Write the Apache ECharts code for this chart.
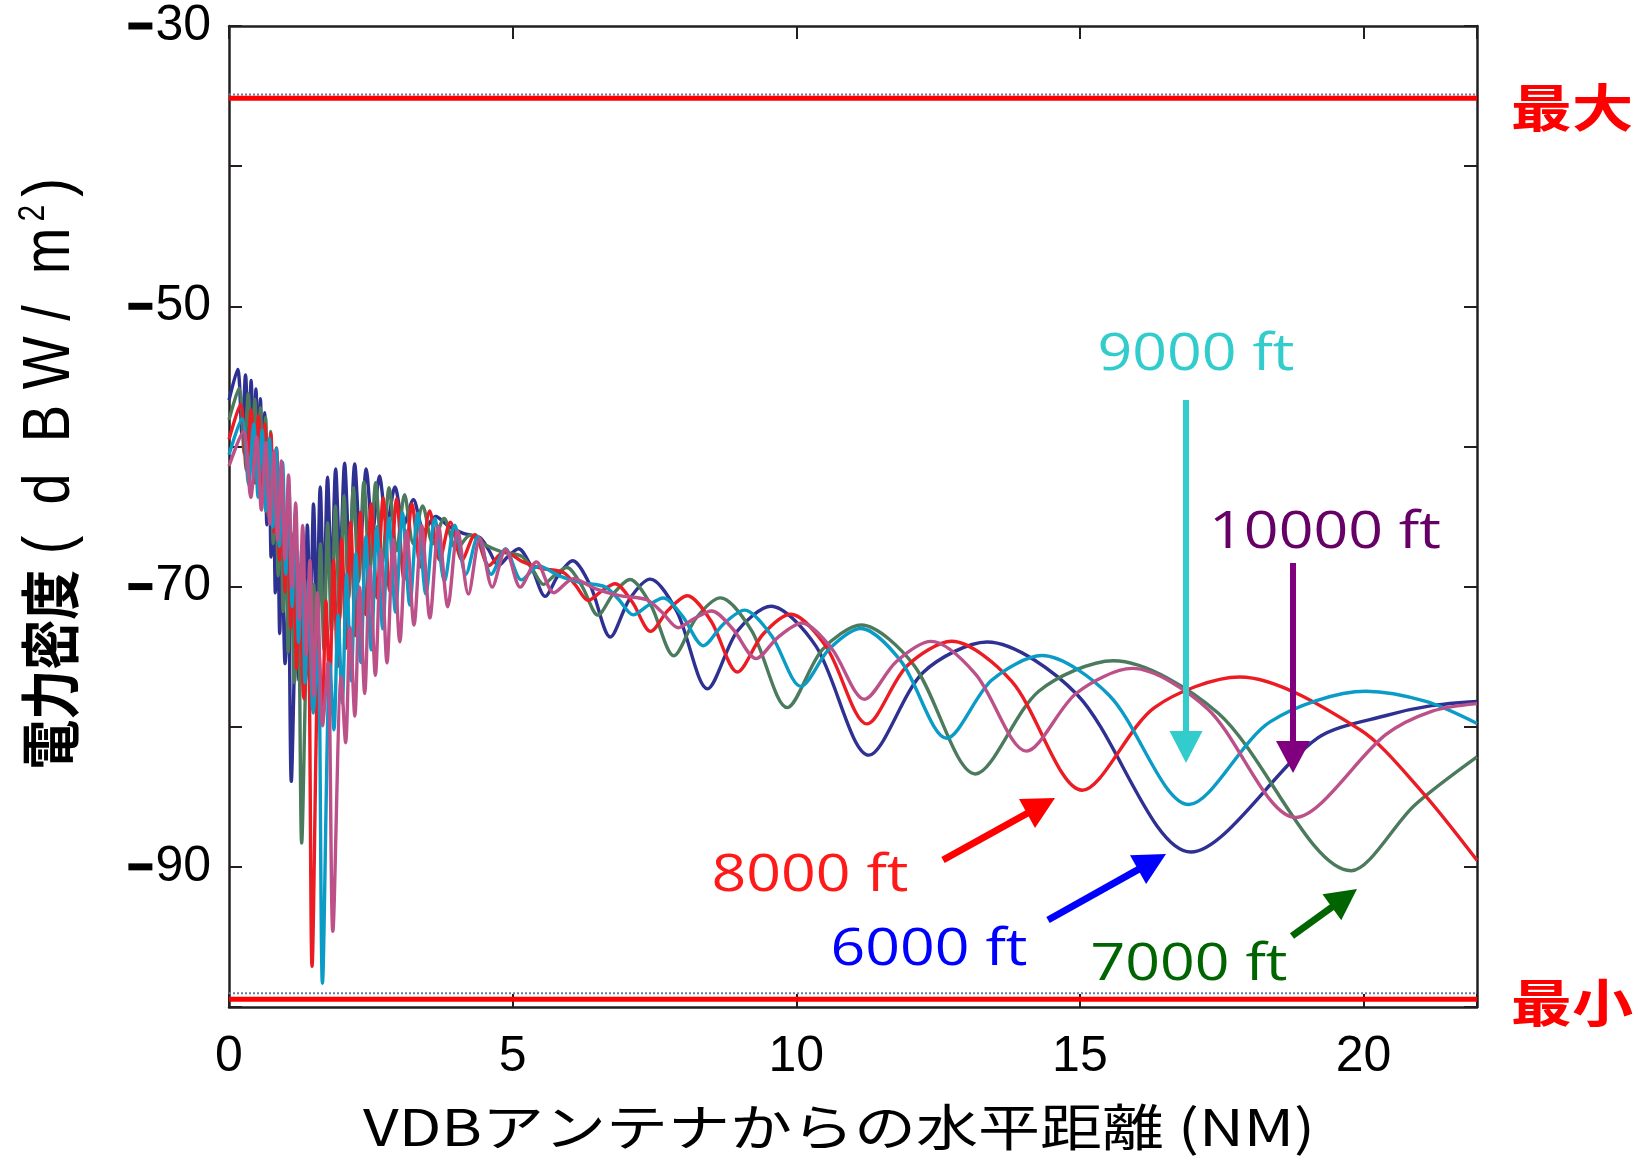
<!DOCTYPE html>
<html>
<head>
<meta charset="utf-8">
<title>VDB 電力密度</title>
<script src="https://cdn.jsdelivr.net/npm/echarts@6/dist/echarts.min.js"></script>
<style>
  html, body { margin: 0; padding: 0; background: #fff; }
  #main { width: 1638px; height: 1165px; }
</style>
</head>
<body>
<div id="main"></div>
<script>
// 高度ごとの電力密度 [水平距離 NM, dBW/m2]
var ft6000 = [[0,-56.7],[0.152,-54.5],[0.230,-59.2],[0.291,-54.9],[0.343,-60.1],[0.390,-55.3],[0.433,-61.1],[0.475,-55.9],[0.515,-62.25],[0.554,-56.6],[0.592,-63.6],[0.630,-57.6],[0.667,-65.6],[0.705,-59.6],[0.742,-67.9],[0.780,-61.2],[0.817,-70.45],[0.855,-63.7],[0.894,-73.35],[0.933,-66.0],[0.989,-75.5],[1.047,-71.0],[1.098,-83.9],[1.187,-72.0],[1.233,-76.7],[1.281,-68.5],[1.331,-74.8],[1.382,-65.6],[1.435,-73.2],[1.490,-64.1],[1.548,-71.9],[1.608,-62.9],[1.671,-71.0],[1.737,-62.2],[1.807,-69.5],[1.880,-61.6],[1.957,-68.3],[2.038,-61.2],[2.125,-67.8],[2.216,-61.25],[2.314,-67.0],[2.419,-61.6],[2.532,-66.1],[2.653,-62.1],[2.784,-65.6],[2.926,-62.9],[3.081,-65.6],[3.250,-63.8],[3.437,-66.0],[3.643,-65.0],[3.873,-65.7],[4.130,-66.2],[4.420,-66.5],[4.580,-67.4],[4.751,-68.5],[4.921,-67.84],[5.104,-67.3],[5.329,-68.59],[5.575,-70.7],[5.807,-69.18],[6.057,-68.16],[6.373,-69.96],[6.722,-73.6],[7.057,-70.92],[7.425,-69.47],[7.899,-71.82],[8.435,-77.3],[8.962,-73.17],[9.554,-71.4],[10.349,-74.27],[11.280,-82.03],[12.235,-76.13],[13.364,-73.95],[14.949,-77.7],[16.956,-88.94],[19.194,-80.8],[20.4,-79.2],[21.2,-78.5],[22,-78.2]];

var ft7000 = [[0,-58.1],[0.177,-55.84],[0.269,-60.54],[0.339,-56.24],[0.400,-61.44],[0.455,-56.64],[0.506,-62.44],[0.554,-57.24],[0.601,-63.59],[0.646,-57.94],[0.691,-64.94],[0.735,-58.94],[0.779,-66.94],[0.822,-60.94],[0.866,-69.24],[0.910,-62.54],[0.954,-71.79],[0.998,-65.04],[1.043,-74.69],[1.089,-67.34],[1.154,-76.84],[1.222,-72.34],[1.281,-88.3],[1.385,-73.34],[1.439,-78.04],[1.495,-69.84],[1.552,-76.14],[1.612,-66.94],[1.674,-74.54],[1.739,-65.44],[1.806,-73.24],[1.876,-64.24],[1.950,-72.34],[2.027,-63.54],[2.108,-70.84],[2.193,-62.94],[2.283,-69.64],[2.378,-62.54],[2.479,-69.14],[2.586,-62.59],[2.700,-68.34],[2.823,-62.94],[2.954,-67.44],[3.095,-63.44],[3.248,-66.94],[3.414,-64.24],[3.594,-66.94],[3.792,-65.14],[4.010,-67.34],[4.250,-66.34],[4.518,-67.04],[4.818,-67.54],[5.157,-67.84],[5.344,-68.74],[5.543,-69.84],[5.742,-69.18],[5.954,-68.64],[6.218,-69.93],[6.504,-72.04],[6.775,-70.52],[7.067,-69.5],[7.435,-71.3],[7.842,-74.94],[8.233,-72.26],[8.663,-70.81],[9.215,-73.16],[9.841,-78.64],[10.456,-74.51],[11.146,-72.74],[12.074,-75.61],[13.160,-83.37],[14.275,-77.47],[15.591,-75.29],[17.440,-79.04],[19.783,-90.28],[20.9,-85.6],[22,-82.15]];

var ft8000 = [[0,-59.5],[0.203,-57.0],[0.307,-61.7],[0.388,-57.4],[0.457,-62.6],[0.519,-57.8],[0.578,-63.6],[0.633,-58.4],[0.687,-64.75],[0.739,-59.1],[0.790,-66.1],[0.840,-60.1],[0.890,-68.1],[0.940,-62.1],[0.990,-70.4],[1.040,-63.7],[1.090,-72.95],[1.141,-66.2],[1.192,-75.85],[1.245,-68.5],[1.319,-78.0],[1.396,-73.5],[1.464,-97.1],[1.583,-74.5],[1.645,-79.2],[1.708,-71.0],[1.774,-77.3],[1.843,-68.1],[1.914,-75.7],[1.987,-66.6],[2.064,-74.4],[2.144,-65.4],[2.228,-73.5],[2.316,-64.7],[2.409,-72.0],[2.506,-64.1],[2.609,-70.8],[2.717,-63.7],[2.833,-70.3],[2.955,-63.75],[3.086,-69.5],[3.226,-64.1],[3.376,-68.6],[3.537,-64.6],[3.712,-68.1],[3.902,-65.4],[4.108,-68.1],[4.334,-66.3],[4.582,-68.5],[4.857,-67.5],[5.164,-68.2],[5.507,-68.7],[5.894,-69.0],[6.107,-69.9],[6.335,-71.0],[6.562,-70.34],[6.805,-69.8],[7.106,-71.09],[7.433,-73.2],[7.742,-71.68],[8.077,-70.66],[8.497,-72.46],[8.963,-76.1],[9.409,-73.42],[9.901,-71.97],[10.532,-74.32],[11.247,-79.8],[11.950,-75.67],[12.739,-73.9],[13.799,-76.77],[15.041,-84.53],[16.314,-78.63],[17.819,-76.45],[19.932,-80.2],[21.0,-84.5],[22,-89.53]];

var ft9000 = [[0,-60.6],[0.228,-58.02],[0.346,-62.72],[0.436,-58.42],[0.514,-63.62],[0.584,-58.82],[0.650,-64.62],[0.712,-59.42],[0.773,-65.77],[0.831,-60.12],[0.888,-67.12],[0.945,-61.12],[1.001,-69.12],[1.057,-63.12],[1.113,-71.42],[1.169,-64.72],[1.226,-73.97],[1.283,-67.22],[1.341,-76.87],[1.400,-69.52],[1.484,-79.02],[1.571,-74.52],[1.647,-98.3],[1.780,-75.52],[1.850,-80.22],[1.922,-72.02],[1.996,-78.32],[2.073,-69.12],[2.153,-76.72],[2.236,-67.62],[2.322,-75.42],[2.412,-66.42],[2.507,-74.52],[2.606,-65.72],[2.710,-73.02],[2.819,-65.12],[2.935,-71.82],[3.057,-64.72],[3.187,-71.32],[3.325,-64.77],[3.471,-70.52],[3.629,-65.12],[3.798,-69.62],[3.979,-65.62],[4.176,-69.12],[4.389,-66.42],[4.621,-69.12],[4.875,-67.32],[5.155,-69.52],[5.464,-68.52],[5.809,-69.22],[6.195,-69.72],[6.630,-70.02],[6.870,-70.92],[7.127,-72.02],[7.382,-71.36],[7.655,-70.82],[7.994,-72.11],[8.362,-74.22],[8.710,-72.7],[9.086,-71.68],[9.559,-73.48],[10.082,-77.12],[10.584,-74.44],[11.138,-72.99],[11.848,-75.34],[12.652,-80.82],[13.443,-76.69],[14.330,-74.92],[15.523,-77.79],[16.920,-85.55],[18.352,-79.65],[20.045,-77.47],[21.1,-78.2],[22,-79.77]];

var ft10000 = [[0,-61.4],[0.253,-58.94],[0.384,-63.64],[0.485,-59.34],[0.571,-64.54],[0.649,-59.74],[0.722,-65.54],[0.792,-60.34],[0.858,-66.69],[0.923,-61.04],[0.987,-68.04],[1.050,-62.04],[1.112,-70.04],[1.175,-64.04],[1.237,-72.34],[1.299,-65.64],[1.362,-74.89],[1.426,-68.14],[1.490,-77.79],[1.556,-70.44],[1.649,-79.94],[1.745,-75.44],[1.830,-94.6],[1.978,-76.44],[2.056,-81.14],[2.135,-72.94],[2.218,-79.24],[2.303,-70.04],[2.392,-77.64],[2.484,-68.54],[2.580,-76.34],[2.680,-67.34],[2.785,-75.44],[2.895,-66.64],[3.011,-73.94],[3.132,-66.04],[3.261,-72.74],[3.397,-65.64],[3.541,-72.24],[3.694,-65.69],[3.857,-71.44],[4.032,-66.04],[4.220,-70.54],[4.422,-66.54],[4.640,-70.04],[4.877,-67.34],[5.135,-70.04],[5.417,-68.24],[5.728,-70.44],[6.072,-69.44],[6.454,-70.14],[6.883,-70.64],[7.367,-70.94],[7.634,-71.84],[7.919,-72.94],[8.202,-72.28],[8.506,-71.74],[8.882,-73.03],[9.291,-75.14],[9.677,-73.62],[10.095,-72.6],[10.621,-74.4],[11.203,-78.04],[11.761,-75.36],[12.375,-73.91],[13.164,-76.26],[14.058,-81.74],[14.937,-77.61],[15.922,-75.84],[17.248,-78.71],[18.800,-86.47],[20.391,-80.57],[21.2,-78.9],[22,-78.35]];

// 最大・最小レベル [赤線, 点線]
var levelMax = [-35.15, -34.88];
var levelMin = [-99.45, -99.02];

var xRange = [0, 22];
var xTickLabels = [0, 5, 10, 15, 20];
var yTickLabels = [-30, -50, -70, -90];

var frameColor = '#231f20';
var tickFont = 'Liberation Sans';

var main = echarts.init(document.getElementById('main'));

function curve(name, data, color) {
    return {
        name: name, type: 'line', data: data,
        showSymbol: false, symbol: 'none',
        smooth: 0.3,
        lineStyle: { color: color, width: 3.4 },
        z: 3
    };
}

function level(value, color, width, type) {
    return {
        type: 'line', data: [[xRange[0], value], [xRange[1], value]],
        showSymbol: false, symbol: 'none', silent: true,
        lineStyle: { color: color, width: width, type: type },
        z: 2
    };
}

// 矢印（棒 + 三角）
function arrow(x1, y1, x2, y2, color, w, hl, hw) {
    var dx = x2 - x1, dy = y2 - y1, L = Math.sqrt(dx * dx + dy * dy);
    var ux = dx / L, uy = dy / L, px = -uy, py = ux;
    var bx = x2 - ux * hl, by = y2 - uy * hl;
    return [
        { type: 'line', z: 10, shape: { x1: x1, y1: y1, x2: bx + ux * 2, y2: by + uy * 2 },
          style: { stroke: color, lineWidth: w } },
        { type: 'polygon', z: 10, shape: { points: [[x2, y2], [bx + px * hw / 2, by + py * hw / 2], [bx - px * hw / 2, by - py * hw / 2]] },
          style: { fill: color } }
    ];
}

function label(text, x, y, color, size, family, weight, sx) {
    return {
        type: 'text', x: x, y: y, scaleX: sx || 1, z: 10,
        style: {
            text: text, fill: color, fontSize: size, fontFamily: family, fontWeight: weight || 'normal',
            align: 'center', verticalAlign: 'middle', textAlign: 'center', textVerticalAlign: 'middle'
        }
    };
}

var graphics = [];
graphics = graphics.concat(
    arrow(1186, 400, 1186, 763, '#33cccc', 6, 32, 33),
    arrow(1293, 563, 1293, 773, '#800080', 6, 32, 34),
    arrow(943, 860, 1055, 798, '#ff0000', 7, 32, 33),
    arrow(1048, 920, 1166, 854, '#0000ff', 7, 32, 33),
    arrow(1292, 936, 1357, 889, '#006400', 7, 31, 32)
);
graphics.push(
    label('9000 ft', 1196, 355, '#33cccc', 52, 'Open Sans', 'normal', 1.17),
    label('10000 ft', 1325, 533, '#660066', 52, 'Open Sans', 'normal', 1.17),
    label('8000 ft', 810, 876, '#ff1a1a', 52, 'Open Sans', 'normal', 1.17),
    label('6000 ft', 929, 950, '#0000ff', 52, 'Open Sans', 'normal', 1.17),
    label('7000 ft', 1189, 965, '#006400', 52, 'Open Sans', 'normal', 1.17),
    label('最大', 1572, 108, '#ff0000', 51, 'Noto Sans CJK JP', 'bold', 1.2),
    label('最小', 1572, 1003, '#ff0000', 51, 'Noto Sans CJK JP', 'bold', 1.2),
    label('VDBアンテナからの水平距離 (NM)', 839, 1127, '#000', 50, 'Noto Sans CJK JP', 'normal', 1.24),
    {
        type: 'text', x: 50, y: 474, rotation: Math.PI / 2, scaleY: 1.2, z: 10,
        style: {
            text: '{a|電力密度}{b| (  d  B W /  m}{s|2}{b|)}',
            align: 'center', verticalAlign: 'middle', textAlign: 'center', textVerticalAlign: 'middle',
            rich: {
                a: { fontSize: 50, fontFamily: 'Noto Sans CJK JP', fontWeight: 'bold', fill: '#000', color: '#000' },
                b: { fontSize: 56, fontFamily: 'Liberation Sans', fill: '#000', color: '#000' },
                s: { fontSize: 30, fontFamily: 'Liberation Sans', fill: '#000', color: '#000', verticalAlign: 'top', padding: [0, 8, 0, 6] }
            }
        }
    }
);

var option = {
    animation: false,
    backgroundColor: '#fff',
    grid: { left: 229, right: 161, top: 26, bottom: 158, containLabel: false },
    xAxis: [
        {
            type: 'value', min: xRange[0], max: xRange[1], interval: 5, position: 'bottom',
            axisLine: { show: true, onZero: false, lineStyle: { color: frameColor, width: 2.5 } },
            axisTick: { show: true, inside: true, length: 13, lineStyle: { color: frameColor, width: 2 } },
            splitLine: { show: false },
            axisLabel: {
                show: true, margin: 25, fontSize: 50, fontFamily: tickFont, color: '#000',
                showMinLabel: true, showMaxLabel: true,
                formatter: function (v) { return xTickLabels.indexOf(v) >= 0 ? String(v) : ''; }
            }
        },
        {
            type: 'value', min: xRange[0], max: xRange[1], interval: 5, position: 'top',
            axisLine: { show: true, onZero: false, lineStyle: { color: frameColor, width: 2.5 } },
            axisTick: { show: true, inside: true, length: 13, lineStyle: { color: frameColor, width: 2 } },
            splitLine: { show: false }, axisLabel: { show: false }
        }
    ],
    yAxis: [
        {
            type: 'value', min: -100, max: -30, interval: 10, position: 'left',
            axisLine: { show: true, onZero: false, lineStyle: { color: frameColor, width: 2.5 } },
            axisTick: { show: true, inside: true, length: 13, lineStyle: { color: frameColor, width: 2 } },
            splitLine: { show: false },
            axisLabel: {
                show: true, margin: 18, fontSize: 50, fontFamily: tickFont, color: '#000',
                showMinLabel: true, showMaxLabel: true,
                formatter: function (v) {
                    return yTickLabels.indexOf(v) >= 0 ? '{m| }{g| }' + Math.abs(v) : '';
                },
                rich: {
                    m: { width: 24, height: 7, backgroundColor: '#000', fontSize: 10, padding: 0 },
                    g: { width: 3, fontSize: 10 }
                }
            }
        },
        {
            type: 'value', min: -100, max: -30, interval: 10, position: 'right',
            axisLine: { show: true, onZero: false, lineStyle: { color: frameColor, width: 2.5 } },
            axisTick: { show: true, inside: true, length: 13, lineStyle: { color: frameColor, width: 2 } },
            splitLine: { show: false }, axisLabel: { show: false }
        }
    ],
    series: [
        level(levelMax[1], '#6f7aa0', 2, [2, 2]),
        level(levelMax[0], '#ff0000', 5, 'solid'),
        level(levelMin[1], '#6f7aa0', 2, [2, 2]),
        level(levelMin[0], '#ff0000', 5, 'solid'),
        curve('6000 ft', ft6000, '#2e3192'),
        curve('7000 ft', ft7000, '#4b7b5c'),
        curve('8000 ft', ft8000, '#ec1c24'),
        curve('9000 ft', ft9000, '#0a9bc6'),
        curve('10000 ft', ft10000, '#bc5089')
    ],
    graphic: { elements: graphics }
};

main.setOption(option);
</script>
</body>
</html>
